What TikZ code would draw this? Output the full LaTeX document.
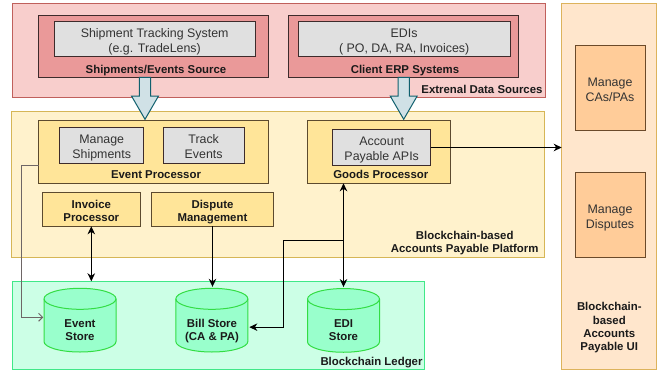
\documentclass[tikz,border=0pt]{standalone}
\usepackage{fontspec}
\setmainfont{Liberation Sans}
\usetikzlibrary{arrows.meta,calc}
\definecolor{pinkbg}{HTML}{F8CECC}
\definecolor{pinkline}{HTML}{C0605C}
\definecolor{pinkmid}{HTML}{EA9999}
\definecolor{darkline}{HTML}{3D2B2B}
\definecolor{greyfill}{HTML}{E0E0E0}
\definecolor{yellowbg}{HTML}{FFF2CC}
\definecolor{yellowline}{HTML}{D6B656}
\definecolor{yellowmid}{HTML}{FFE599}
\definecolor{brownline}{HTML}{5C4A2E}
\definecolor{greenbg}{HTML}{CCFFE6}
\definecolor{greenline}{HTML}{40E888}
\definecolor{cylfill}{HTML}{99FFCC}
\definecolor{cylline}{HTML}{33DD44}
\definecolor{uibg}{HTML}{FFE6CC}
\definecolor{uiline}{HTML}{DDB35C}
\definecolor{uimid}{HTML}{FFCC99}
\definecolor{uiinline}{HTML}{6B4A2A}
\definecolor{arrfill}{HTML}{D0E1E6}
\definecolor{arrline}{HTML}{10606E}
\definecolor{txt}{HTML}{1A1A1A}
\definecolor{greyconn}{HTML}{6E6666}
\newcommand\nfont{\fontsize{12.4}{15}\selectfont}
\newcommand\lfont{\fontsize{11.4}{13.4}\selectfont\bfseries}
\newcommand\tn{\rule{0pt}{15.7pt}}
\newcommand\tb{\rule{0pt}{14.6pt}}
\begin{document}
\begin{tikzpicture}[x=1pt,y=-1pt,
  every node/.style={inner sep=0pt,outer sep=0pt,text=txt},
  ntext/.style={font=\nfont,align=center,text=black!80},
  btext/.style={font=\lfont,align=center},
  sline/.style={font=\lfont,execute at begin node={\strut}},
  extbox/.style={fill=pinkbg,draw=pinkline,line width=1pt},
  srcbox/.style={fill=pinkmid,draw=darkline,line width=1pt},
  greybox/.style={fill=greyfill,draw=darkline,line width=1pt,ntext},
  platbox/.style={fill=yellowbg,draw=yellowline,line width=1pt},
  procbox/.style={fill=yellowmid,draw=brownline,line width=1pt},
  ledgerbox/.style={fill=greenbg,draw=greenline,line width=1pt},
  uibox/.style={fill=uibg,draw=uiline,line width=1pt},
  uiinbox/.style={fill=uimid,draw=uiinline,line width=1pt,ntext},
  cylbody/.style={fill=cylfill,draw=cylline,line width=1pt},
  cylstore/.style={minimum width=72pt,minimum height=63.7pt},
  arr/.style={draw=black,line width=1pt,-{Stealth[length=8pt,width=7.5pt,inset=2.5pt]}},
  biarr/.style={draw=black,line width=1pt,{Stealth[length=8pt,width=7.5pt,inset=2.5pt]}-{Stealth[length=8pt,width=7.5pt,inset=2.5pt]}},
  greyarr/.style={draw=greyconn,line width=1pt,-{Straight Barb[length=4pt,width=8pt]}},
  blockarr/.style={fill=arrfill,draw=arrline,line width=1pt,line join=miter}
]
\useasboundingbox (0,0) rectangle (661,372);

% External data sources
\node[extbox,minimum width=533pt,minimum height=94.3pt] (ext) at (279.2,50.15) {};
\node[srcbox,minimum width=230pt,minimum height=62.3pt] (shipsrc) at (153.7,46.15) {};
\node[greybox,minimum width=201.3pt,minimum height=33.4pt] (shipsys) at (154.65,39) {\tn Shipment Tracking System\\(e.g. TradeLens)\strut};
\node[sline] (shipsrcl) at (156,70.4) {Shipments/Events Source};
\node[srcbox,minimum width=230.3pt,minimum height=62.3pt] (erp) at (403.15,46.15) {};
\node[greybox,minimum width=211.7pt,minimum height=33.4pt] (edis) at (404.15,39) {\tn EDIs\\( PO, DA, RA, Invoices)\strut};
\node[sline] (erpl) at (405,70.4) {Client ERP Systems};
\node[sline,anchor=east] (extl) at (542.5,90.4) {Extrenal Data Sources};

% Platform
\node[platbox,minimum width=532.6pt,minimum height=146.3pt] (plat) at (278,184.15) {};
\node[procbox,minimum width=230pt,minimum height=62.6pt] (eventproc) at (153.7,152) {};
\node[greybox,minimum width=84pt,minimum height=33.6pt] (mship) at (101.7,145.5) {\tn Manage\\Shipments\strut};
\node[greybox,minimum width=81.3pt,minimum height=33.6pt] (tev) at (203.65,145.5) {\tn Track\\Events\strut};
\node[sline] (epl) at (156,176.1) {Event Processor};
\node[procbox,minimum width=143pt,minimum height=62.6pt] (goods) at (379.2,152) {};
\node[greybox,minimum width=98pt,minimum height=33.6pt] (apis) at (381.7,147.5) {\tn Account\\Payable APIs\strut};
\node[sline] (gpl) at (380.8,176.1) {Goods Processor};
\node[procbox,btext,minimum width=98pt,minimum height=33.6pt] (inv) at (91.3,209.5) {\tb Invoice\\Processor\strut};
\node[procbox,btext,minimum width=121.6pt,minimum height=33.6pt] (disp) at (212.5,209.5) {\tb Dispute\\Management\strut};
\node[btext,anchor=east] (platl) at (538.5,240.5) {\tb Blockchain-based\\Accounts Payable Platform\strut};

% Ledger
\node[ledgerbox,minimum width=412.4pt,minimum height=88pt] (ledger) at (218.5,325.3) {};
\node[cylstore] (es) at (80,320.15) {};
\node[cylstore] (bs) at (211.85,320.15) {};
\node[cylstore] (edi) at (343.5,320.4) {};
\foreach \c in {es,bs,edi}{
  \draw[cylbody] ([yshift=-10.5pt]\c.north west) -- ([yshift=10.5pt]\c.south west)
    arc[start angle=180,end angle=360,x radius=36pt,y radius=10.5pt]
    -- ([yshift=-10.5pt]\c.north east)
    arc[start angle=0,end angle=180,x radius=36pt,y radius=10.5pt] -- cycle;
  \draw[cylline,line width=1pt] ([yshift=-10.5pt]\c.north west)
    arc[start angle=180,end angle=360,x radius=36pt,y radius=10.5pt];
}
\node[btext] (esl) at (80,328.8) {\tb Event\\Store\strut};
\node[btext] (bsl) at (212,328.8) {\tb Bill Store\\(CA \& PA)\strut};
\node[btext] (edil) at (343.5,328.8) {\tb EDI\\Store\strut};
\node[sline,anchor=east] (ledgl) at (422.5,362.4) {Blockchain Ledger};

% UI
\node[uibox,minimum width=95pt,minimum height=366.3pt] (ui) at (609.2,186.15) {};
\node[uiinbox,minimum width=70pt,minimum height=84.6pt] (mcas) at (610,88) {\tn Manage\\CAs/PAs\strut};
\node[uiinbox,minimum width=70pt,minimum height=84.6pt] (mdisp) at (610,215) {\tn Manage\\Disputes\strut};
\node[btext,font=\fontsize{11.4}{13.2}\selectfont\bfseries] (uil) at (609.3,325.3) {\tb Blockchain-\\based\\Accounts\\Payable UI\strut};

% Block arrows
\draw[blockarr] ([xshift=-14.4pt]shipsrc.south) -- ++(11.4,0) -- ++(0,18.7) -- ++(7.8,0)
  -- ([xshift=-8.7pt,yshift=1.4pt]eventproc.north) -- ++(-13.5,-23.3) -- ++(7.8,0) -- cycle;
\draw[blockarr] ([xshift=-5.15pt]erp.south) -- ++(11.4,0) -- ++(0,18.7) -- ++(7.8,0)
  -- ([xshift=24.5pt,yshift=1.4pt]goods.north) -- ++(-13.5,-23.3) -- ++(7.8,0) -- cycle;

% Connectors
\draw[greyarr] ([yshift=-13pt]eventproc.west) -- ++(-17,0) |- ([yshift=2.85pt,xshift=-0.7pt]es.west);
\draw[biarr] (inv.south) -- (inv.south |- ledger.north);
\draw[arr] (disp.south) -- ([yshift=1.5pt]disp.south |- bs.north);
\draw[biarr] (edi.north |- goods.south) -- ([yshift=1.5pt]edi.north);
\coordinate (br) at ($(edi.north |- goods.south)+(0,57)$);
\draw[arr] (br) -- ++(-59.6,0) |- ([yshift=-7pt,xshift=1.5pt]bs.east);
\draw[arr] (apis.east) -- (apis.east -| ui.west);
\end{tikzpicture}
\end{document}
